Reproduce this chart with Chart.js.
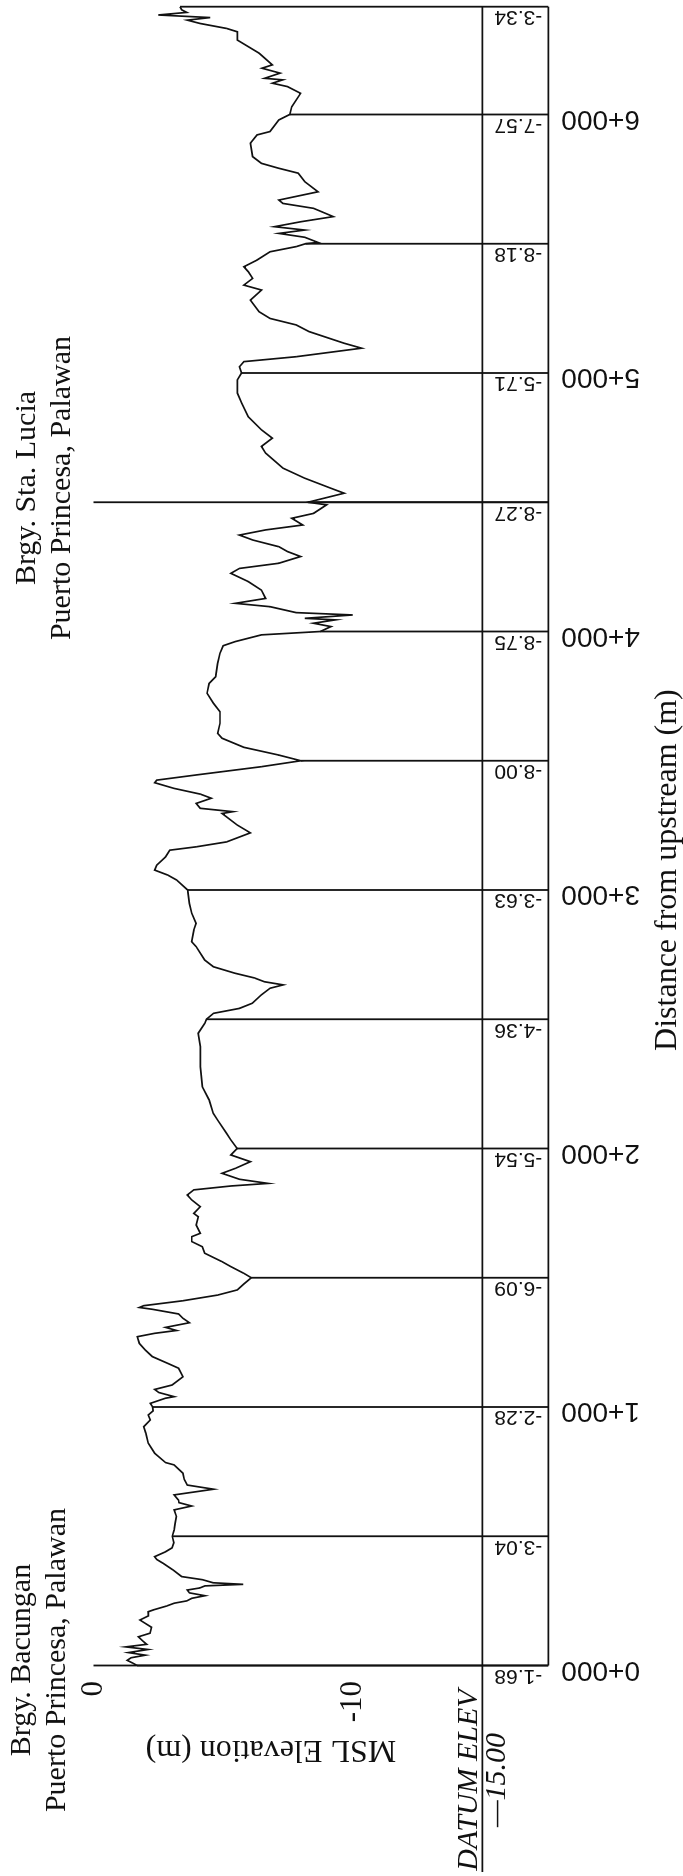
<!DOCTYPE html>
<html>
<head>
<meta charset="utf-8">
<title>River bed profile</title>
<script src="https://cdn.jsdelivr.net/npm/chart.js@4.4.1/dist/chart.umd.min.js"></script>
<style>
  html, body { margin: 0; padding: 0; background: #fff; overflow: hidden; width: 683px; height: 1876px; }
  /* the sheet is laid out landscape and turned a quarter turn to read upward */
  #sheet { position: absolute; left: 0; top: 0; width: 1876px; height: 683px;
           transform-origin: 0 0; transform: translateY(1876px) rotate(-90deg); }
</style>
</head>
<body>
<div id="sheet"><canvas id="profile" width="1876" height="683"></canvas></div>
<script>
// bed profile: chainage from upstream (m) and MSL elevation (m)
const distances = [
  0, 10, 20, 30, 40, 50, 62, 72, 82, 95, 111, 125, 148, 176, 192, 208, 215, 230, 241, 250,
  260, 270, 281, 292, 300, 308, 314, 320, 332, 344, 369, 395, 410, 421, 440, 455, 475, 500,
  524, 550, 576, 602, 617, 630, 640, 660, 682, 698, 720, 744, 776, 785, 821, 860, 898, 924,
  950, 969, 985, 1000, 1014, 1034, 1040, 1056, 1068, 1085, 1117, 1150, 1169, 1195, 1220, 1246,
  1272, 1285, 1296, 1308, 1326, 1343, 1360, 1378, 1385, 1392, 1411, 1433, 1453, 1476, 1500,
  1517, 1543, 1562, 1595, 1620, 1640, 1659, 1672, 1704, 1736, 1749, 1775, 1801, 1820, 1840,
  1855, 1865, 1881, 1904, 1923, 1949, 1975, 2000, 2033, 2059, 2110, 2136, 2188, 2239, 2316,
  2394, 2446, 2484, 2500, 2523, 2542, 2562, 2594, 2620, 2633, 2645, 2660, 2678, 2703, 2729,
  2781, 2800, 2845, 2871, 2910, 2948, 3000, 3039, 3058, 3077, 3096, 3128, 3154, 3167, 3186,
  3221, 3251, 3283, 3296, 3303, 3316, 3335, 3355, 3371, 3393, 3415, 3425, 3445, 3477, 3500,
  3522, 3552, 3587, 3606, 3645, 3690, 3722, 3761, 3799, 3825, 3877, 3916, 3945, 3961, 3987,
  4000, 4019, 4032, 4045, 4051, 4064, 4073, 4096, 4109, 4128, 4160, 4193, 4225, 4244, 4264,
  4290, 4309, 4328, 4354, 4373, 4393, 4412, 4438, 4457, 4490, 4500, 4535, 4554, 4593, 4632,
  4690, 4716, 4748, 4780, 4831, 4883, 4922, 4973, 5000, 5024, 5044, 5063, 5096, 5115, 5160,
  5186, 5211, 5237, 5282, 5321, 5340, 5366, 5392, 5411, 5437, 5469, 5489, 5500, 5505, 5525,
  5540, 5553, 5566, 5585, 5605, 5637, 5656, 5669, 5701, 5740, 5773, 5792, 5811, 5837, 5889,
  5921, 5934, 5979, 6000, 6030, 6082, 6108, 6121, 6134, 6140, 6160, 6179, 6192, 6237, 6288,
  6320, 6333, 6352, 6365, 6375, 6385, 6395, 6405, 6417
];
const elevations = [
  -1.68, -1.50, -1.30, -1.45, -2.00, -1.35, -2.10, -1.25, -2.05, -1.90, -1.73, -2.18, -2.24, -1.79, -2.12, -2.11, -2.31, -2.82, -3.11, -3.60,
  -3.79, -4.30, -3.70, -3.62, -4.10, -4.30, -5.78, -4.62, -4.20, -3.40, -3.08, -2.69, -2.44, -2.36, -2.78, -3.03, -3.10, -3.04,
  -3.11, -3.15, -3.20, -3.11, -3.79, -3.30, -3.28, -3.11, -4.63, -3.62, -3.50, -3.45, -3.11, -2.78, -2.36, -2.11, -2.02, -1.94,
  -2.19, -2.11, -2.30, -2.28, -2.19, -2.78, -3.11, -2.52, -2.36, -3.03, -3.45, -3.28, -2.86, -2.27, -2.00, -1.77,
  -1.69, -2.36, -3.20, -2.78, -3.70, -3.45, -3.28, -2.27, -1.77, -1.94, -3.45, -4.79, -5.55, -5.80, -6.09,
  -5.80, -5.30, -4.96, -4.29, -4.20, -3.79, -3.79, -4.12, -3.96, -4.04, -3.87, -4.12, -3.79, -3.62, -3.87,
  -5.30, -6.73, -5.63, -4.96, -5.47, -6.05, -5.30, -5.54, -5.30, -5.13, -4.79, -4.62, -4.46, -4.20, -4.12,
  -4.12, -4.04, -4.29, -4.36, -4.63, -5.63, -6.13, -6.47, -6.81, -7.32, -6.60, -6.20, -5.46, -4.63, -4.29,
  -3.96, -3.79, -3.87, -3.96, -3.79, -3.70, -3.63, -3.20, -2.86, -2.36, -2.44, -2.78, -2.94, -3.96, -5.13,
  -6.05, -5.55, -5.13, -4.96, -5.38, -4.12, -3.96, -4.54, -4.12, -3.11, -2.36, -2.44, -3.96, -6.48, -8.00,
  -7.15, -5.80, -4.96, -4.79, -4.88, -4.88, -4.63, -4.38, -4.46, -4.71, -4.79, -4.88, -5.00, -5.47, -6.48,
  -8.75, -9.16, -8.49, -9.33, -8.15, -10.00, -7.82, -6.81, -5.47, -6.64, -6.48, -5.97, -5.30, -5.63, -7.15,
  -7.99, -7.49, -7.15, -6.14, -5.63, -6.64, -8.07, -7.65, -8.49, -8.99, -8.27, -9.67, -9.16, -8.15, -7.31,
  -6.64, -6.48, -6.90, -6.48, -5.97, -5.72, -5.55, -5.55, -5.71, -5.63, -5.80, -7.82, -10.34, -9.67, -8.32,
  -7.82, -6.81, -6.39, -6.05, -6.48, -5.80, -6.14, -5.97, -5.80, -6.31, -6.81, -7.82, -8.18, -8.66, -8.15,
  -7.15, -8.15, -6.98, -7.99, -9.25, -8.49, -7.31, -7.15, -8.66, -8.15, -7.90, -7.15, -6.48, -6.14, -6.05,
  -6.31, -6.81, -7.15, -7.57, -7.65, -7.99, -7.48, -6.90, -7.30, -6.60, -7.20, -6.50, -6.90, -6.39, -5.55,
  -5.55, -5.13, -4.12, -3.62, -4.50, -2.50, -3.60, -3.40, -3.34
];

// stations listed in the table under the profile
const stationDist = [0, 500, 1000, 1500, 2000, 2500, 3000, 3500, 4000, 4500, 5000, 5500, 6000, 6417];
const stationElev = [-1.68, -3.04, -2.28, -6.09, -5.54, -4.36, -3.63, -8.00, -8.75, -8.27, -5.71, -8.18, -7.57, -3.34];
// barangay boundaries, drawn full height
const boundaryStations = [0, 4500];
const placeNames = [
  ['Brgy. Bacungan', 'Puerto Princesa, Palawan'],
  ['Brgy. Sta. Lucia', 'Puerto Princesa, Palawan']
];
const placeDist = [21, 4555];

const xTicks = [0, 1000, 2000, 3000, 4000, 5000, 6000];
const yTicks = [0, -10];
const datumElev = -15;
const endStation = 6417;
const tableBottom = -17.546;   // lower edge of the station table, in elevation units

const SERIF = '"Liberation Serif", "Times New Roman", serif';
const SANS = '"Liberation Sans", Arial, sans-serif';
const INK = '#111';

function stationLabel(v) {
  const km = Math.floor(v / 1000);
  return km + '+' + String(v % 1000).padStart(3, '0');
}

function upText(ctx, text, x, y, align) {
  ctx.save();
  ctx.translate(x, y);
  ctx.rotate(-Math.PI / 2);
  ctx.textAlign = align;
  ctx.fillText(text, 0, 0);
  ctx.restore();
}

// frame, station lines, table values and captions
const sheetPlugin = {
  id: 'sheet',
  afterDatasetsDraw(chart) {
    const { ctx, chartArea: a, scales: { x, y } } = chart;
    const line = (x1, y1, x2, y2) => {
      ctx.beginPath(); ctx.moveTo(x1, y1); ctx.lineTo(x2, y2); ctx.stroke();
    };
    ctx.save();
    ctx.strokeStyle = INK;
    ctx.lineWidth = 1.8;

    const yDatum = y.getPixelForValue(datumElev);
    line(4, yDatum, a.right, yDatum);
    line(a.left, a.bottom, a.right, a.bottom);

    stationDist.forEach((d, i) => {
      const px = x.getPixelForValue(d);
      line(px, y.getPixelForValue(stationElev[i]), px, a.bottom);
    });
    boundaryStations.forEach(d => {
      const px = x.getPixelForValue(d);
      line(px, y.getPixelForValue(0), px, a.bottom);
    });

    ctx.fillStyle = INK;
    ctx.textBaseline = 'alphabetic';

    // elevations written in the table
    ctx.font = '21px ' + SANS;
    stationDist.forEach((d, i) => {
      upText(ctx, stationElev[i].toFixed(2), x.getPixelForValue(d) - 4.5, a.bottom - 6, 'left');
    });

    // axis captions
    ctx.font = '32px ' + SERIF;
    upText(ctx, 'MSL Elevation (m)', 135, (a.top + yDatum) / 2 - 17, 'center');
    ctx.textAlign = 'center';
    ctx.fillText('Distance from upstream (m)', x.getPixelForValue(3077), 676);

    // datum note
    ctx.font = 'italic 30px ' + SERIF;
    ctx.fillText('DATUM ELEV', 96, yDatum - 5.5);
    ctx.fillText('\u201415.00', 96, yDatum + 23);

    // barangay names
    ctx.font = '30px ' + SERIF;
    placeNames.forEach((rows, i) => {
      const px = x.getPixelForValue(placeDist[i]);
      const top = i === 0 ? 30 : 35;
      rows.forEach((t, r) => ctx.fillText(t, px, top + r * 35));
    });
    ctx.restore();
  }
};

new Chart(document.getElementById('profile'), {
  type: 'line',
  data: {
    datasets: [{
      data: distances.map((d, i) => ({ x: d, y: elevations[i] })),
      borderColor: INK,
      borderWidth: 1.7,
      pointRadius: 0,
      tension: 0,
      fill: false
    }]
  },
  options: {
    responsive: false,
    animation: false,
    devicePixelRatio: 1,
    layout: { padding: { left: 0, right: 6.7, top: 93.5, bottom: 0 } },
    plugins: { legend: { display: false }, tooltip: { enabled: false } },
    scales: {
      x: {
        type: 'linear', min: 0, max: endStation,
        grid: { display: false }, border: { display: false },
        afterBuildTicks: s => { s.ticks = xTicks.map(v => ({ value: v })); },
        afterFit: s => { s.height = 134.7; },
        ticks: {
          autoSkip: false, minRotation: 90, maxRotation: 90, padding: 5, labelOffset: -4,
          color: INK, font: { family: SANS, size: 28 },
          callback: v => stationLabel(v)
        }
      },
      y: {
        min: tableBottom, max: 0,
        grid: { display: false }, border: { display: false },
        afterBuildTicks: s => { s.ticks = yTicks.map(v => ({ value: v })); },
        afterFit: s => { s.width = 210.5; },
        ticks: { padding: 7.5, color: INK, font: { family: SERIF, size: 31 } }
      }
    }
  },
  plugins: [sheetPlugin]
});
</script>
</body>
</html>
